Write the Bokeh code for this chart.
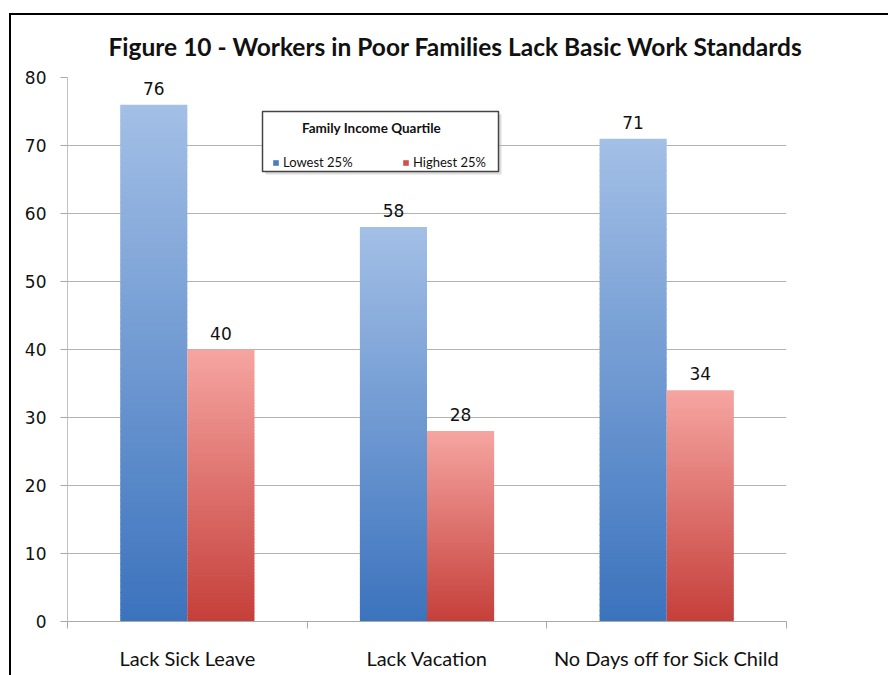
from bokeh.plotting import figure
from bokeh.models import (ColumnDataSource, FixedTicker, Label, LabelSet, Legend, LegendItem,
                          BoxAnnotation, Range1d)
from bokeh.core.properties import value
from bokeh.embed import file_html
from bokeh.resources import INLINE

# ---------------- data ----------------
categories = ["Lack Sick Leave", "Lack Vacation", "No Days off for Sick Child"]
lowest_25 = [76, 58, 71]
highest_25 = [40, 28, 34]
series_names = ["Lowest 25%", "Highest 25%"]
y_ticks = [0, 10, 20, 30, 40, 50, 60, 70, 80]
title_text = "Figure 10 - Workers in Poor Families Lack Basic Work Standards"
legend_title = "Family Income Quartile"

# ---------------- layout / style ----------------
W, H = 888, 675
FL, FR, FT, FB = 67, 102, 77, 54          # borders around the plot frame
frame_w = W - FL - FR
frame_h = H - FT - FB
YMAX = 80
px_x = frame_w / len(categories)
px_y = frame_h / YMAX

def dx(px):  # screen x -> data x
    return (px - FL) / px_x

def dy(py):  # screen y (from top) -> data y
    return YMAX - (py - FT) / px_y

BAR_W = 0.28
OFFS = [-0.14, 0.14]
TOP_COLORS = ["#a3bfe6", "#f6a5a1"]
BOT_COLORS = ["#3b73bd", "#c53f3a"]
KEY_COLORS = ["#4a7ec3", "#d0504b"]
N = 90

def hex2rgb(h):
    h = h.lstrip("#")
    return tuple(int(h[i:i + 2], 16) for i in (0, 2, 4))

def mix(c1, c2, t):
    a, b = hex2rgb(c1), hex2rgb(c2)
    return "#%02x%02x%02x" % tuple(round(a[i] + (b[i] - a[i]) * t) for i in range(3))

p = figure(width=W, height=H, output_backend="svg", toolbar_location=None,
           x_range=Range1d(0, len(categories)), y_range=Range1d(0, YMAX),
           min_border_left=FL, min_border_right=FR, min_border_top=FT, min_border_bottom=FB,
           background_fill_color="white", border_fill_alpha=0)
p.outline_line_color = None
p.xgrid.grid_line_color = None
p.ygrid.ticker = FixedTicker(ticks=y_ticks)
p.ygrid.grid_line_color = "#b2b2b2"
p.ygrid.grid_line_width = 1

# page-like black frame (drawn with CSS behind the transparent border area)
p.styles = {
    "background-color": "white",
    "background-image": "linear-gradient(#000,#000), linear-gradient(#000,#000)",
    "background-size": "100% 2px, 2px 100%",
    "background-position": "9px 13px, 9px 13px",
    "background-repeat": "no-repeat",
}

# ---------------- title ----------------
p.title.text = title_text
p.title.align = "left"
p.title.offset = 41
p.title.standoff = 34
p.title.text_font = "Lato"
p.title.text_font_style = "bold"
p.title.text_font_size = "24.5px"
p.title.text_color = "#111111"

# ---------------- bars with vertical gradient ----------------
for s, vals in enumerate([lowest_25, highest_25]):
    xs, bots, tops, cols = [], [], [], []
    for i, v in enumerate(vals):
        for k in range(N):
            xs.append(i + 0.5 + OFFS[s])
            bots.append(v * k / N)
            tops.append(min(v, v * (k + 1) / N + 0.12))
            cols.append(mix(BOT_COLORS[s], TOP_COLORS[s], (k + 0.5) / N))
    src = ColumnDataSource(dict(x=xs, bottom=bots, top=tops, color=cols))
    p.vbar(x="x", bottom="bottom", top="top", width=BAR_W, source=src,
           fill_color="color", line_color=None)

# legend key renderers (swatches, outside visible range)
key_rs = []
for s in range(2):
    ks = ColumnDataSource(dict(x=[-5], top=[0]))
    kr = p.vbar(x="x", top="top", width=0.1, source=ks, fill_color=KEY_COLORS[s], line_color=None)
    key_rs.append(kr)

# ---------------- data labels ----------------
for s, vals in enumerate([lowest_25, highest_25]):
    lsrc = ColumnDataSource(dict(x=[i + 0.5 + OFFS[s] for i in range(len(vals))],
                                 y=vals, t=[str(v) for v in vals]))
    p.add_layout(LabelSet(x="x", y="y", text="t", source=lsrc, text_align="center",
                          text_baseline="bottom", y_offset=10,
                          text_font=value("DejaVu Sans"), text_font_size="17px",
                          text_color="#111111"))

# ---------------- axes ----------------
ax = p.xaxis[0]
ax.ticker = FixedTicker(ticks=[i + 0.5 for i in range(len(categories))],
                        minor_ticks=list(range(len(categories) + 1)))
ax.major_label_overrides = {i + 0.5: c for i, c in enumerate(categories)}
ax.major_tick_out = 0
ax.major_tick_in = 0
ax.minor_tick_out = 7
ax.minor_tick_in = 0
ax.minor_tick_line_color = "#a8a8a8"
ax.axis_line_color = "#a8a8a8"
ax.major_label_standoff = 17
ax.major_label_text_font = "Lato"
ax.major_label_text_font_size = "20px"
ax.major_label_text_color = "#111111"

ay = p.yaxis[0]
ay.ticker = FixedTicker(ticks=y_ticks)
ay.minor_tick_line_color = None
ay.major_tick_out = 7
ay.major_tick_in = 0
ay.major_tick_line_color = "#a8a8a8"
ay.axis_line_color = "#c0c0c0"
ay.major_label_standoff = 14
ay.major_label_text_font = "DejaVu Sans"
ay.major_label_text_font_size = "17px"
ay.major_label_text_color = "#111111"

# ---------------- legend box ----------------
p.add_layout(BoxAnnotation(left=dx(265), right=dx(501), top=dy(114), bottom=dy(174),
                           fill_color="#bbbbbb", fill_alpha=0.5, line_color=None))
p.add_layout(BoxAnnotation(left=dx(262), right=dx(498), top=dy(111), bottom=dy(171),
                           fill_color="white", fill_alpha=1, line_color="#444444",
                           line_width=1.5, line_alpha=1))
p.add_layout(Label(x=dx(371), y=dy(127), text=legend_title, text_align="center",
                   text_baseline="middle", text_font="Lato", text_font_style="bold",
                   text_font_size="13.5px", text_color="#111111"))

legend = Legend(items=[LegendItem(label=series_names[s], renderers=[key_rs[s]]) for s in range(2)],
                orientation="horizontal", location=(272 - FL, (H - FB) - 170), padding=0, margin=0,
                spacing=18, glyph_width=7, glyph_height=7, label_standoff=4, label_width=101,
                label_text_font="Lato", label_text_font_size="13px", label_text_color="#111111",
                border_line_color=None, background_fill_alpha=0, label_height=16)
p.add_layout(legend)

open("out.html", "w").write(file_html(p, INLINE))
